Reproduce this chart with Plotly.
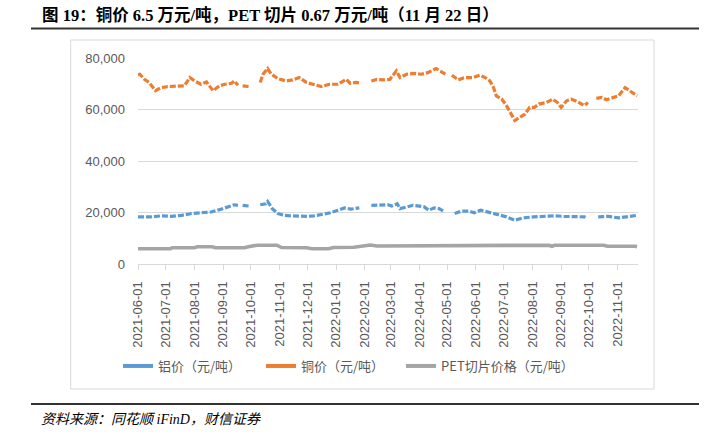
import plotly.graph_objects as go

# ---------------- data ----------------
copper_dates = ["2021-06-01","2021-06-03","2021-06-08","2021-06-13","2021-06-20","2021-06-26","2021-07-03","2021-07-14",
    "2021-07-21","2021-07-27","2021-08-01","2021-08-08","2021-08-14","2021-08-21","2021-08-28","2021-09-03",
    "2021-09-10","2021-09-13","2021-09-17","2021-09-19","2021-09-22","2021-09-29","2021-10-02","2021-10-11",
    "2021-10-14","2021-10-19","2021-10-23","2021-10-30","2021-11-08","2021-11-15","2021-11-22","2021-11-30",
    "2021-12-07","2021-12-16","2021-12-25","2022-01-03","2022-01-12","2022-01-16","2022-01-23","2022-01-28",
    "2022-01-31","2022-02-08","2022-02-14","2022-02-21","2022-02-28","2022-03-07","2022-03-11","2022-03-18",
    "2022-03-27","2022-04-03","2022-04-10","2022-04-19","2022-04-25","2022-04-29","2022-05-02","2022-05-06",
    "2022-05-13","2022-05-20","2022-05-29","2022-06-05","2022-06-11","2022-06-16","2022-06-20","2022-06-23",
    "2022-06-29","2022-07-04","2022-07-08","2022-07-13","2022-07-18","2022-07-24","2022-07-29","2022-08-03",
    "2022-08-08","2022-08-16","2022-08-23","2022-08-28","2022-09-01","2022-09-07","2022-09-12","2022-09-19",
    "2022-09-26","2022-09-30","2022-10-03","2022-10-09","2022-10-15","2022-10-20","2022-10-28","2022-11-02",
    "2022-11-09","2022-11-15","2022-11-22"]
copper_values = [73500,73700,71700,70500,67300,68500,68900,69200,
    69200,72400,71100,69800,70700,67300,69200,69800,
    70200,71100,69400,None,69200,68900,None,70500,
    73700,75900,73700,72000,71100,71500,72400,70500,
    69800,68900,69800,69800,71700,70200,70500,70200,
    None,71100,71700,71500,71700,75000,72400,73700,
    74000,73700,74300,75900,74600,73700,None,73300,
    71500,72400,72400,73300,72400,71100,68500,65300,
    64000,61500,58900,55700,56900,58200,60800,60800,
    62100,62700,64000,62700,60800,63400,64000,63000,
    61500,62700,None,64300,64700,63800,64700,65300,
    68500,66900,65300]

alu_dates = ["2021-06-01","2021-06-15","2021-06-26","2021-07-07","2021-07-18","2021-07-29","2021-08-08","2021-08-19",
    "2021-08-30","2021-09-10","2021-09-13","2021-09-17","2021-09-19","2021-09-22","2021-09-29","2021-10-02",
    "2021-10-11","2021-10-17","2021-10-19","2021-10-24","2021-10-30","2021-11-06","2021-11-13","2021-11-20",
    "2021-12-01","2021-12-08","2021-12-16","2021-12-26","2022-01-03","2022-01-10","2022-01-17","2022-01-26",
    "2022-01-31","2022-02-08","2022-02-19","2022-02-26","2022-03-02","2022-03-08","2022-03-11","2022-03-18",
    "2022-03-25","2022-04-01","2022-04-06","2022-04-11","2022-04-17","2022-04-22","2022-04-27","2022-04-30",
    "2022-05-09","2022-05-16","2022-05-25","2022-05-30","2022-06-06","2022-06-13","2022-06-20","2022-06-27",
    "2022-07-04","2022-07-13","2022-07-22","2022-08-02","2022-08-13","2022-08-24","2022-09-04","2022-09-15",
    "2022-09-26","2022-09-29","2022-10-02","2022-10-11","2022-10-22","2022-11-02","2022-11-11","2022-11-22"]
alu_values = [18300,18300,18700,18500,18900,19600,19900,20200,
    21300,22500,23000,22800,None,22800,22500,None,
    23000,23400,24300,21500,19600,18900,18700,18500,
    18500,18700,19200,19900,20900,21800,21300,21800,
    None,22800,22800,23000,22500,23400,21500,22200,
    22800,22500,22200,20900,21800,21500,20500,None,
    19600,20500,20500,19900,20900,20200,19600,18900,
    18300,17000,17900,18300,18500,18700,18500,18500,
    18300,17900,None,18300,18500,17900,18300,18900]

pet_dates = ["2021-06-01","2021-07-06","2021-07-08","2021-08-01","2021-08-04","2021-08-20","2021-08-24","2021-09-24",
    "2021-09-28","2021-10-08","2021-10-29","2021-11-03","2021-11-30","2021-12-06","2021-12-24","2021-12-29",
    "2022-01-20","2022-01-28","2022-02-07","2022-02-14","2022-02-25","2022-03-04","2022-08-19","2022-08-22",
    "2022-08-25","2022-10-17","2022-10-21","2022-11-20","2022-11-22"]
pet_values = [5900,5900,6300,6300,6700,6700,6300,6300,
    6700,7300,7300,6400,6300,5900,5900,6400,
    6500,6800,7400,7000,7000,7300,7300,6900,
    7300,7300,6900,6900,6700]

tick_dates = ["2021-06-01","2021-07-01","2021-08-01","2021-09-01","2021-10-01","2021-11-01","2021-12-01",
    "2022-01-01","2022-02-01","2022-03-01","2022-04-01","2022-05-01","2022-06-01","2022-07-01",
    "2022-08-01","2022-09-01","2022-10-01","2022-11-01"]
y_ticks = [0, 20000, 40000, 60000, 80000]

names = ["铝价（元/吨）", "铜价（元/吨）", "PET切片价格（元/吨）"]
colors = ["#5B9BD5", "#ED7D31", "#A5A5A5"]

# ---------------- layout geometry (pixels) ----------------
W, H = 704, 435
L, R, T, B = 138, 66, 58, 171
PW, PH = W - L - R, H - T - B

def px(xp):
    return (xp - L) / PW

def py(yp):
    return (H - B - yp) / PH

fig = go.Figure()
series = [(alu_dates, alu_values), (copper_dates, copper_values), (pet_dates, pet_values)]
for i, (d, v) in enumerate(series):
    fig.add_trace(go.Scatter(
        x=d, y=v, mode="lines", connectgaps=False, showlegend=False,
        line=dict(color=colors[i], width=3.2 if i < 2 else 3.6, dash="6px,2px" if i < 2 else "solid"),
        hoverinfo="skip"))

legend_ids = ["legend", "legend2", "legend3"]
legend_x = [118, 261, 401]
legend_font = dict(family="Noto Sans CJK SC, sans-serif", size=13, color="#595959")
for i in range(3):
    fig.add_trace(go.Scatter(x=[None], y=[None], mode="lines", name=names[i], legend=legend_ids[i],
                             line=dict(color=colors[i], width=4)))

label_font = dict(family="Liberation Sans, Arial, sans-serif", size=13, color="#595959")

legend_common = dict(orientation="h", xref="container", yref="container",
                     xanchor="left", yanchor="middle", font=legend_font,
                     itemwidth=30, bgcolor="rgba(0,0,0,0)")

fig.update_layout(
    width=W, height=H,
    margin=dict(l=L, r=R, t=T, b=B, pad=0, autoexpand=False),
    paper_bgcolor="white", plot_bgcolor="white",
    showlegend=True,
    legend=dict(**legend_common, x=legend_x[0] / W, y=1 - 366 / H),
    legend2=dict(**legend_common, x=legend_x[1] / W, y=1 - 366 / H),
    legend3=dict(**legend_common, x=legend_x[2] / W, y=1 - 366 / H),
    xaxis=dict(type="date", range=["2021-06-01", "2022-11-23"], automargin=False,
               tickvals=tick_dates, ticktext=tick_dates, tickangle=-90,
               tickfont=label_font, showgrid=False, zeroline=False,
               showline=True, linecolor="#D9D9D9", linewidth=1,
               ticks="outside", ticklen=5, tickcolor="#D9D9D9", ticklabelstandoff=6),
    yaxis=dict(range=[0, 80000], tickvals=y_ticks, tickformat=",", automargin=False,
               tickfont=label_font, showgrid=True, gridcolor="#D9D9D9", gridwidth=1,
               zeroline=False, showline=False, ticks="", ticklabelstandoff=12),
    font=dict(family="Noto Sans CJK SC, sans-serif"),
)

# chart border box
fig.add_shape(type="rect", xref="paper", yref="paper",
              x0=px(70.7), x1=px(654), y0=py(389), y1=py(40),
              line=dict(color="#D9D9D9", width=1), fillcolor="rgba(0,0,0,0)", layer="below")
# title rule & bottom rule
fig.add_shape(type="line", xref="paper", yref="paper", x0=px(31), x1=px(699), y0=py(28.5), y1=py(28.5),
              line=dict(color="#333333", width=2))
fig.add_shape(type="line", xref="paper", yref="paper", x0=px(31), x1=px(699), y0=py(404), y1=py(404),
              line=dict(color="#333333", width=2))

fig.add_annotation(text="<b>图 19：铜价 6.5 万元/吨，PET 切片 0.67 万元/吨（11 月 22 日）</b>",
                   xref="paper", yref="paper", x=px(40), y=py(15), xanchor="left", yanchor="middle",
                   showarrow=False,
                   font=dict(family="Liberation Serif, Noto Sans CJK SC, serif", size=16.5, color="#000000"))
fig.add_annotation(text="<i>资料来源：同花顺 iFinD，财信证券</i>",
                   xref="paper", yref="paper", x=px(39), y=py(419), xanchor="left", yanchor="middle",
                   showarrow=False,
                   font=dict(family="Liberation Serif, Noto Sans CJK SC, serif", size=14, color="#000000"))

fig.write_html("out.html", config={"displayModeBar": False},
               post_script="document.body.style.margin='0';document.body.style.overflow='hidden';")
